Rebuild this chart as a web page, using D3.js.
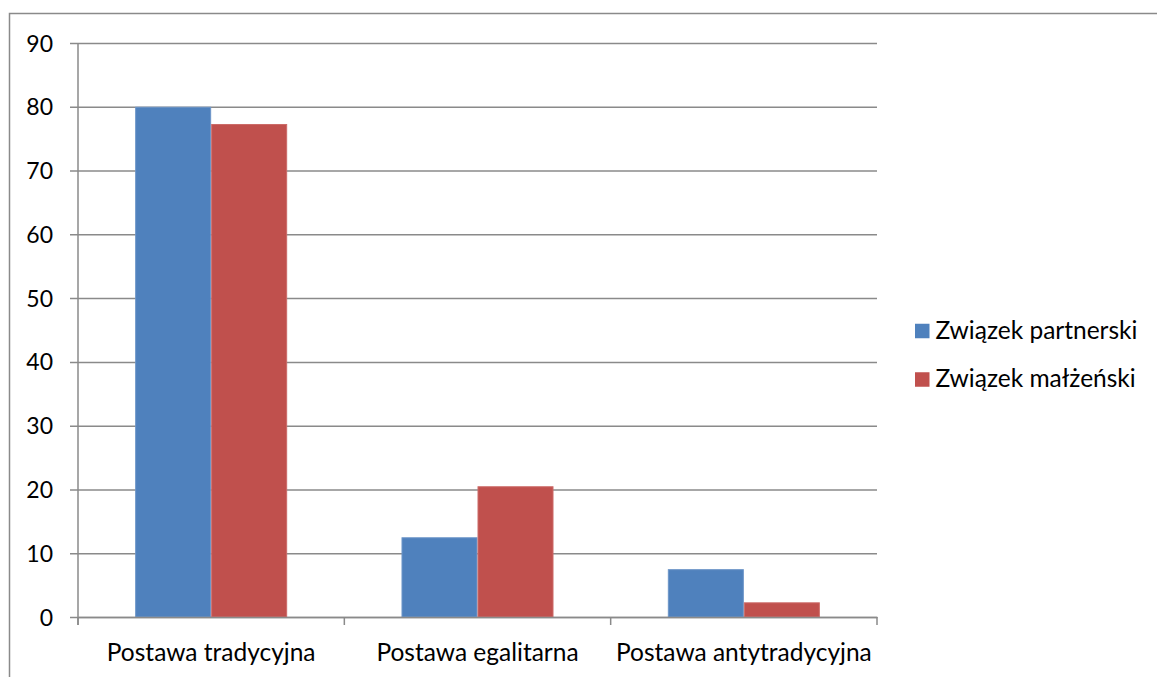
<!DOCTYPE html>
<html><head><meta charset="utf-8">
<script src="https://cdn.jsdelivr.net/npm/d3@7"></script>
<style>html,body{margin:0;padding:0;background:#fff;}svg{display:block;}</style>
</head><body>
<svg id="c" width="1157" height="677"></svg>
<script>
const categories = ["Postawa tradycyjna", "Postawa egalitarna", "Postawa antytradycyjna"];
const seriesNames = ["Związek partnerski", "Związek małżeński"];
const partnerski = [80, 12.5, 7.5];
const malzenski = [77.3, 20.5, 2.3];
const yTicks = [0, 10, 20, 30, 40, 50, 60, 70, 80, 90];
const colors = ["#4F81BD", "#C0504D"];
const strokes = ["#6c95c8", "#cc6b68"];

(function () {
const svg = d3.select("#c");
const font = "Lato, sans-serif";
const gridColor = "#8a8a8a";

// outer border
svg.append("rect").attr("x", 9.5).attr("y", 13.5).attr("width", 1200).attr("height", 700)
  .attr("fill", "none").attr("stroke", gridColor).attr("stroke-width", 1.5);

const pLeft = 78, pRight = 877, pTop = 43, pBottom = 617;
const x0 = d3.scaleBand().domain(categories).range([pLeft, pRight]).padding(0);
const x1 = d3.scaleBand().domain(seriesNames).range([0, x0.bandwidth()]).paddingInner(0).paddingOuter(0.752);
const y = d3.scaleLinear().domain([0, 90]).range([pBottom, pTop]);

// gridlines + y tick labels via axis
const yAxis = d3.axisLeft(y).tickValues(yTicks).tickSize(-(pRight - pLeft)).tickSizeOuter(0).tickPadding(0);
const gy = svg.append("g").attr("transform", `translate(${pLeft},0)`).call(yAxis);
gy.select(".domain").remove();
gy.selectAll(".tick line").attr("stroke", gridColor).attr("stroke-width", 1.5).attr("x1", -8);
gy.selectAll(".tick text").attr("x", -25).attr("dy", "0.35em").attr("font-family", font)
  .attr("font-size", 23).attr("fill", "#000").attr("text-anchor", "end");

// bars
const data = categories.map((c, i) => ({cat: c, vals: [partnerski[i], malzenski[i]]}));
const groups = svg.append("g").selectAll("g").data(data).join("g")
  .attr("transform", d => `translate(${x0(d.cat)},0)`);
groups.selectAll("rect").data(d => d.vals.map((v, j) => ({s: seriesNames[j], v, j})))
  .join("rect")
  .attr("x", d => x1(d.s) + 0.5).attr("width", x1.bandwidth() - 1)
  .attr("y", d => y(d.v) + 0.5).attr("height", d => y(0) - y(d.v) - 0.5)
  .attr("fill", d => colors[d.j]).attr("stroke", d => strokes[d.j]).attr("stroke-width", 1);

// y axis line
svg.append("line").attr("x1", pLeft).attr("x2", pLeft).attr("y1", pTop).attr("y2", pBottom + 8)
  .attr("stroke", gridColor).attr("stroke-width", 1.5);

// x axis
const bounds = categories.map(c => x0(c)).concat([pRight]);
const xAxis = d3.axisBottom(x0).tickSize(0).tickSizeOuter(0).tickPadding(0);
const gx = svg.append("g").attr("transform", `translate(0,${pBottom})`).call(xAxis);
gx.select(".domain").attr("stroke", gridColor).attr("stroke-width", 1.5);
gx.selectAll(".tick line").remove();
gx.selectAll(".tick text").attr("y", 44).attr("dy", 0).attr("font-family", font)
  .attr("font-size", 24.5).attr("fill", "#000");
svg.append("g").selectAll("line").data(bounds).join("line")
  .attr("x1", d => d).attr("x2", d => d).attr("y1", pBottom).attr("y2", pBottom + 8)
  .attr("stroke", gridColor).attr("stroke-width", 1.5);

// legend
const lg = svg.append("g").selectAll("g").data(seriesNames).join("g")
  .attr("transform", (d, i) => `translate(915,${331 + i * 48.5})`);
lg.append("rect").attr("x", 0).attr("y", -7.25).attr("width", 14.5).attr("height", 14.5)
  .attr("fill", (d, i) => colors[i]);
lg.append("text").attr("x", 20.5).attr("y", 7.5).attr("font-family", font)
  .attr("font-size", 24.5).attr("fill", "#000").text(d => d);
})();
</script>
</body></html>
